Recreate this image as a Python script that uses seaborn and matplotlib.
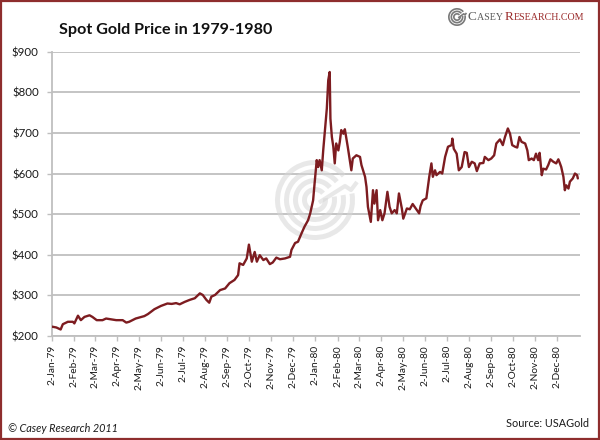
import numpy as np
import pandas as pd
import matplotlib
matplotlib.use("Agg")
import matplotlib.pyplot as plt
import seaborn as sns
from matplotlib.patches import Wedge, Rectangle
from matplotlib.lines import Line2D
from matplotlib.transforms import IdentityTransform
from matplotlib.offsetbox import TextArea, HPacker, AnnotationBbox

# ---------------- data ----------------
start_date = "1979-01-02"
days_since_start = [
    0, 6, 12, 15, 22, 29, 31, 36, 40, 45, 52, 56, 62, 70, 75, 82, 89, 98, 103, 107,
    116, 128, 133, 142, 151, 160, 166, 172, 177, 184, 191, 198, 205, 209, 214, 218,
    221, 226, 233, 240, 246, 253, 258, 260, 265, 270, 273, 277, 281, 284, 288, 293,
    297, 302, 306, 311, 316, 323, 330, 332, 337, 341, 346, 350, 355, 358, 362, 364,
    367, 369, 371, 374, 376, 378, 381, 383, 385, 386, 388, 390, 392, 394, 397, 399,
    401, 404, 406, 410, 415, 417, 422, 427, 429, 434, 436, 438, 442, 445, 447, 450,
    452, 455, 458, 461, 465, 468, 471, 475, 478, 481, 485, 487, 492, 496, 500, 505,
    509, 511, 514, 519, 523, 526, 528, 531, 533, 538, 541, 545, 549, 554, 555, 557,
    561, 564, 568, 572, 575, 578, 582, 586, 589, 593, 598, 600, 605, 609, 613, 616,
    621, 625, 628, 632, 635, 638, 642, 645, 648, 651, 656, 659, 661, 665, 668, 671,
    674, 676, 679, 681, 685, 688, 691, 695, 699, 702, 704, 706, 709, 711, 713, 716,
    718, 722, 725, 728, 729,
]
price_usd = [
    223, 221, 216, 229, 235, 235, 231, 250, 239, 247, 251, 247, 239, 239, 243, 241, 239, 239, 233, 235,
    243, 249, 254, 266, 274, 280, 279, 281, 278, 284, 289, 293, 305, 301, 289, 282,
    297, 301, 313, 317, 330, 338, 350, 379, 375, 391, 425, 383, 407, 383, 399, 387,
    391, 377, 381, 393, 389, 391, 395, 412, 429, 432, 453, 469, 485, 502, 534, 575,
    633, 616, 633, 608, 657, 698, 760, 830, 850, 735, 690, 666, 625, 674, 657, 678,
    707, 698, 709, 666, 608, 637, 645, 641, 621, 592, 567, 518, 481, 559, 526, 559,
    485, 510, 485, 502, 555, 518, 502, 510, 502, 551, 514, 489, 514, 512, 525, 512,
    502, 520, 534, 539, 592, 625, 592, 608, 596, 604, 600, 641, 666, 670, 686, 661,
    649, 608, 616, 653, 651, 616, 629, 625, 606, 625, 626, 641, 633, 637, 645, 674,
    684, 670, 690, 711, 698, 670, 666, 664, 690, 678, 674, 657, 633, 637, 633, 649,
    633, 651, 596, 612, 610, 621, 635, 629, 625, 635, 626, 616, 592, 559, 571, 563,
    580, 588, 600, 596, 588,
]
month_tick_labels = [
    "2-Jan-79", "2-Feb-79", "2-Mar-79", "2-Apr-79", "2-May-79", "2-Jun-79",
    "2-Jul-79", "2-Aug-79", "2-Sep-79", "2-Oct-79", "2-Nov-79", "2-Dec-79",
    "2-Jan-80", "2-Feb-80", "2-Mar-80", "2-Apr-80", "2-May-80", "2-Jun-80",
    "2-Jul-80", "2-Aug-80", "2-Sep-80", "2-Oct-80", "2-Nov-80", "2-Dec-80",
]
y_ticks = [200, 300, 400, 500, 600, 700, 800, 900]
title_text = "Spot Gold Price in 1979-1980"
copyright_text = "\u00a9 Casey Research 2011"
source_text = "Source: USAGold"

# ---------------- style ----------------
sns.set_theme(style="white")
plt.rcParams["font.family"] = ["Lato", "DejaVu Sans"]

line_color = "#7D1C20"
grid_color = "#BFBFBF"
border_color = "#8E2D2D"
text_color = "#1A1A1A"

W, H = 600, 440
fig = plt.figure(figsize=(W / 100, H / 100), dpi=100)
fig.patch.set_facecolor("white")

ax_left, ax_right, ax_top, ax_bottom = 52, 580, 51.7, 336
ax = fig.add_axes([ax_left / W, (H - ax_bottom) / H,
                   (ax_right - ax_left) / W, (ax_bottom - ax_top) / H])

df = pd.DataFrame({
    "date": pd.Timestamp(start_date) + pd.to_timedelta(days_since_start, unit="D"),
    "price": price_usd,
})

# watermark logo (decorative) behind the line
def draw_logo(target, cx, cy, radii, width, color, alpha, zorder, lw_line):
    tr = IdentityTransform()
    for r in radii:
        w = Wedge((cx, H - cy), r, 40, 370, width=width, transform=tr,
                  facecolor=color, edgecolor="none", alpha=alpha, zorder=zorder,
                  clip_on=False)
        target.add_artist(w)
    ln = Line2D([cx + radii[-1] * 0.3, cx + radii[0] * 0.75, cx + radii[0] * 0.9, cx + radii[0] * 1.05],
                [H - cy - radii[-1] * 0.2, H - cy + radii[0] * 0.35, H - cy + radii[0] * 0.25, H - cy + radii[0] * 0.45],
                transform=tr, color=color, alpha=alpha, lw=lw_line, zorder=zorder,
                clip_on=False, solid_capstyle="butt")
    target.add_artist(ln)

draw_logo(ax, 315, 200, [40, 31, 22, 13], 5, "#D6D6D6", 0.55, 0.8, 3.0)

sns.lineplot(data=df, x="date", y="price", ax=ax, color=line_color,
             linewidth=1.7, zorder=3)

ax.set_xlim(pd.Timestamp(start_date), pd.Timestamp(start_date) + pd.Timedelta(days=732))
ax.set_ylim(y_ticks[0], y_ticks[-1])
ax.set_yticks(y_ticks)
ax.set_yticklabels([f"${v}" for v in y_ticks])
tick_dates = pd.to_datetime(month_tick_labels, format="%d-%b-%y")
ax.set_xticks(tick_dates)
ax.set_xticklabels(month_tick_labels, rotation=90)
ax.set_xlabel("")
ax.set_ylabel("")

ax.grid(axis="y", color=grid_color, linewidth=1.3)
ax.grid(axis="x", visible=False)
ax.set_axisbelow(True)
for s in ["top", "right"]:
    ax.spines[s].set_visible(False)
for s in ["left", "bottom"]:
    ax.spines[s].set_color(grid_color)
    ax.spines[s].set_linewidth(1.3)
ax.tick_params(axis="x", direction="out", length=3.5, width=1, color=grid_color,
               pad=3, labelsize=7.3, labelcolor=text_color, bottom=True)
ax.tick_params(axis="y", direction="out", length=3.5, width=1, color=grid_color,
               pad=6, labelsize=8.3, labelcolor=text_color, left=True)

# title
fig.text(59 / W, 1 - 30 / H, title_text, fontsize=11.6, fontweight="bold",
         color="#111111", ha="left", va="center")

# header brand logo
draw_logo(fig, 457, 17, [9, 6.5, 4], 1.7, "#7A7A7A", 1.0, 5, 1.2)
serif = ["Liberation Serif", "DejaVu Serif"]
gray = "#5A5A5A"
red = "#9B2B2B"
parts = [
    TextArea("C", textprops=dict(fontsize=9.5, color=gray, family=serif)),
    TextArea("ASEY ", textprops=dict(fontsize=7.2, color=gray, family=serif)),
    TextArea("R", textprops=dict(fontsize=9.5, color=red, family=serif)),
    TextArea("ESEARCH.COM", textprops=dict(fontsize=7.2, color=red, family=serif)),
]
brand = HPacker(children=parts, align="baseline", pad=0, sep=0)
ab = AnnotationBbox(brand, (468 / W, 1 - 17 / H), xycoords="figure fraction",
                    box_alignment=(0, 0.5), frameon=False, pad=0)
fig.add_artist(ab)

# footer
fig.text(8 / W, 1 - 428 / H, copyright_text, fontsize=7.8, style="italic",
         color=text_color, ha="left", va="center")
fig.text(589 / W, 1 - 423 / H, source_text, fontsize=7.8,
         color=text_color, ha="right", va="center")

# outer border
fig.add_artist(Rectangle((1, 1), W - 2, H - 2, transform=IdentityTransform(),
                         fill=False, edgecolor=border_color, linewidth=1.6,
                         clip_on=False, zorder=10))

fig.savefig("out.png", dpi=100, facecolor="white")
